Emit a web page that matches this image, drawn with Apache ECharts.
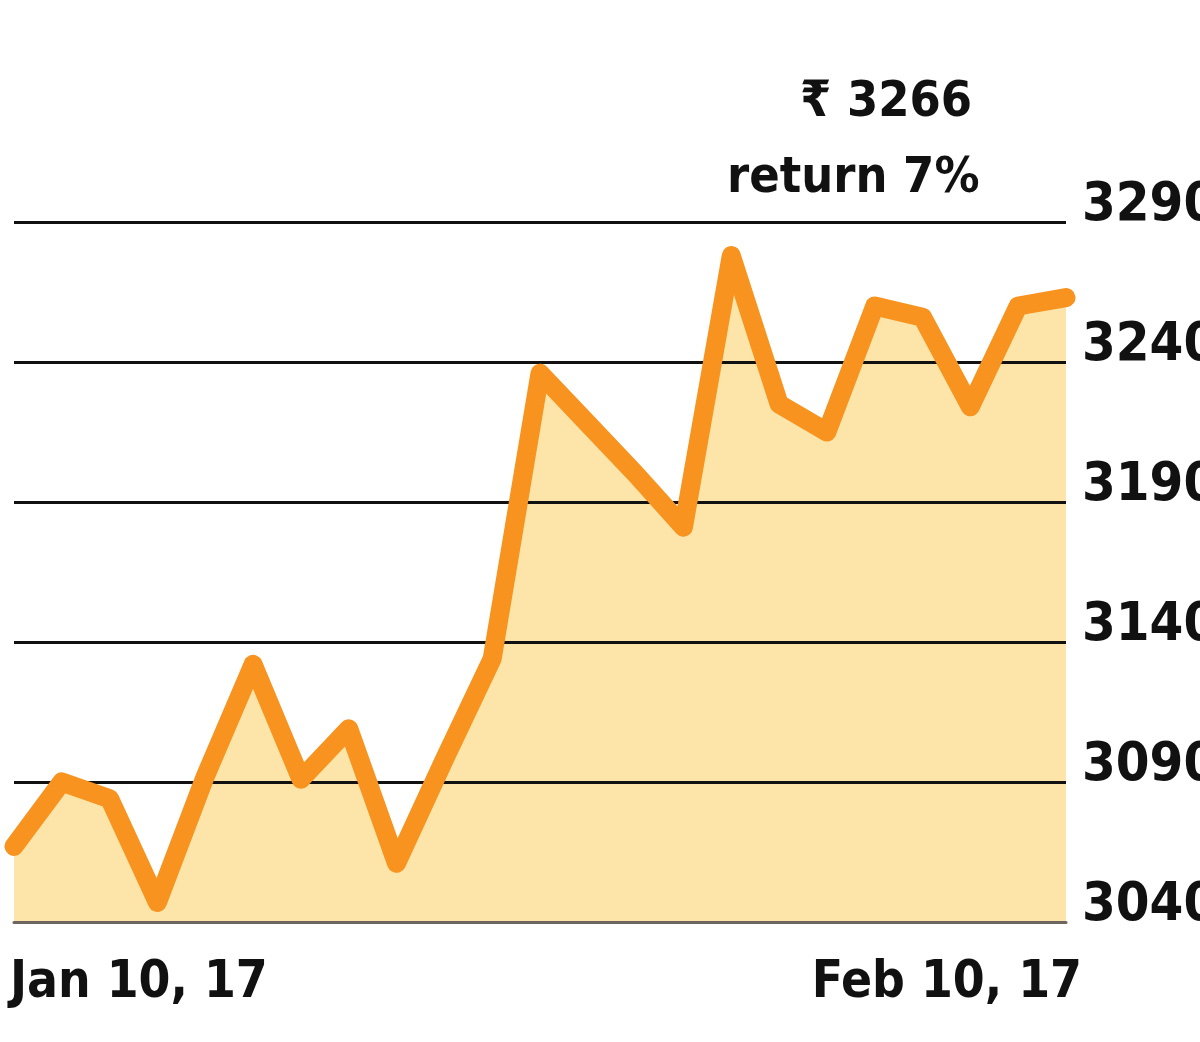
<!DOCTYPE html>
<html>
<head>
<meta charset="utf-8">
<script src="https://cdn.jsdelivr.net/npm/echarts@6/dist/echarts.min.js"></script>
<style>
html,body{margin:0;padding:0;background:#fff;}
#chart{width:1200px;height:1042px;}
</style>
</head>
<body>
<div id="chart"></div>
<script>
var categories = ['Jan 10, 17','Jan 11, 17','Jan 12, 17','Jan 13, 17','Jan 16, 17','Jan 17, 17','Jan 18, 17','Jan 19, 17','Jan 20, 17','Jan 23, 17','Jan 24, 17','Jan 25, 17','Jan 27, 17','Jan 30, 17','Jan 31, 17','Feb 1, 17','Feb 2, 17','Feb 3, 17','Feb 6, 17','Feb 7, 17','Feb 8, 17','Feb 9, 17','Feb 10, 17'];
var prices = [3067, 3090, 3084, 3047, 3092, 3132, 3091, 3109, 3061, 3098, 3134, 3236, 3218, 3200, 3181, 3278, 3225, 3215, 3260, 3256, 3224, 3260, 3263];
var yTicks = [3040, 3090, 3140, 3190, 3240, 3290];
var annotationLines = ['\u20B9 3266', 'return 7%'];

var FONT = '"DejaVu Sans Condensed", "DejaVu Sans", sans-serif';
var chart = echarts.init(document.getElementById('chart'), null, {renderer: 'canvas'});
var lastIdx = categories.length - 1;
chart.setOption({
  animation: false,
  backgroundColor: '#ffffff',
  grid: {left: 14, right: 134, top: 222, bottom: 120, containLabel: false, outerBoundsMode: 'none'},
  xAxis: {
    type: 'category',
    data: categories,
    boundaryGap: false,
    z: 3,
    axisLine: {show: true, lineStyle: {color: '#6e6460', width: 3}},
    axisTick: {show: false},
    splitLine: {show: false},
    axisLabel: {
      interval: function (i) { return i === 0 || i === lastIdx; },
      alignMinLabel: 'left',
      alignMaxLabel: 'right',
      margin: 36,
      formatter: function (v, i) { return i === lastIdx ? '{r|' + v + '}' : '{l|' + v + '}'; },
      rich: {
        l: {color: '#111', fontFamily: FONT, fontWeight: 'bold', fontSize: 51, padding: [0, 0, 0, -4]},
        r: {color: '#111', fontFamily: FONT, fontWeight: 'bold', fontSize: 51, padding: [0, -16, 0, 0]}
      }
    }
  },
  yAxis: {
    type: 'value',
    position: 'right',
    min: yTicks[0],
    max: yTicks[yTicks.length - 1],
    interval: 50,
    z: 3,
    axisLine: {show: false},
    axisTick: {show: false},
    splitLine: {show: true, lineStyle: {color: '#111', width: 3}},
    axisLabel: {
      margin: 16,
      color: '#111',
      fontFamily: FONT,
      fontWeight: 'bold',
      fontSize: 54,
      verticalAlign: 'bottom',
      lineHeight: 32,
      formatter: function (v) { return String(v); }
    }
  },
  series: [
    {
      type: 'line',
      data: prices,
      z: 2,
      symbol: 'none',
      lineStyle: {width: 0},
      areaStyle: {color: '#FDE4A8', opacity: 1, origin: 'start'},
      silent: true
    },
    {
      type: 'line',
      data: prices,
      z: 4,
      symbol: 'none',
      lineStyle: {width: 19, color: '#F7931E', join: 'round', cap: 'round'},
      silent: true
    }
  ],
  graphic: [
    {type: 'text', left: 800, top: 78, z: 10, style: {text: annotationLines[0], fill: '#111', font: 'bold 50px ' + FONT}},
    {type: 'text', left: 727, top: 154, z: 10, style: {text: annotationLines[1], fill: '#111', font: 'bold 50px ' + FONT}}
  ]
});
</script>
</body>
</html>
